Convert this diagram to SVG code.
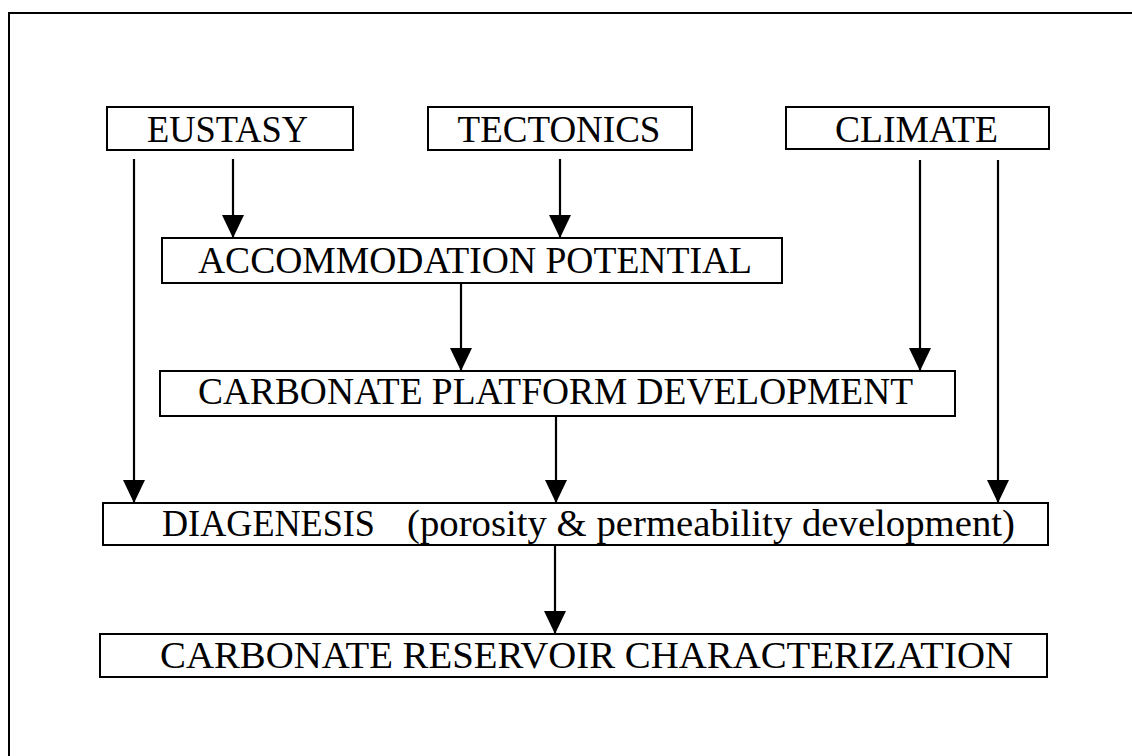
<svg xmlns="http://www.w3.org/2000/svg" width="1132" height="756" viewBox="0 0 1132 756">
  <defs>
    <marker id="arr" markerUnits="userSpaceOnUse" viewBox="0 0 23 22" refX="23" refY="11" markerWidth="23" markerHeight="22" orient="auto">
      <path d="M0,0 L23,11 L0,22 Z" fill="#000"/>
    </marker>
    <style>
      .box { fill: #fff; stroke: #000; stroke-width: 2; }
      .lbl { font-family: "Liberation Serif", "Times New Roman", serif; font-size: 37px; fill: #000; }
      .conn { stroke: #000; stroke-width: 2.2; fill: none; marker-end: url(#arr); }
      .frame { stroke: #000; stroke-width: 2; fill: none; }
    </style>
  </defs>
  <rect width="1132" height="756" fill="#fff"/>
  <path class="frame" d="M9,756 L9,13 L1132,13"/>

  <g id="eustasy">
    <rect class="box" x="107" y="107" width="246" height="43"/>
    <text class="lbl" x="147" y="142" textLength="161" lengthAdjust="spacingAndGlyphs">EUSTASY</text>
  </g>
  <g id="tectonics">
    <rect class="box" x="428" y="107" width="264" height="43"/>
    <text class="lbl" x="559" y="142" text-anchor="middle">TECTONICS</text>
  </g>
  <g id="climate">
    <rect class="box" x="786" y="107" width="263" height="42"/>
    <text class="lbl" x="835" y="142" textLength="163" lengthAdjust="spacingAndGlyphs">CLIMATE</text>
  </g>
  <g id="accommodation">
    <rect class="box" x="162" y="238" width="620" height="45"/>
    <text class="lbl" x="198" y="273" textLength="554" lengthAdjust="spacingAndGlyphs">ACCOMMODATION POTENTIAL</text>
  </g>
  <g id="platform">
    <rect class="box" x="160" y="371" width="795" height="45"/>
    <text class="lbl" x="198" y="404" textLength="715" lengthAdjust="spacingAndGlyphs">CARBONATE PLATFORM DEVELOPMENT</text>
  </g>
  <g id="diagenesis">
    <rect class="box" x="103" y="503" width="945" height="42"/>
    <text class="lbl" x="162" y="536" textLength="213" lengthAdjust="spacingAndGlyphs">DIAGENESIS</text>
    <text class="lbl" x="407" y="536" textLength="608" lengthAdjust="spacingAndGlyphs">(porosity &amp; permeability development)</text>
  </g>
  <g id="reservoir">
    <rect class="box" x="100" y="634" width="947" height="43"/>
    <text class="lbl" x="160" y="668" textLength="853" lengthAdjust="spacingAndGlyphs">CARBONATE RESERVOIR CHARACTERIZATION</text>
  </g>

  <g id="connectors">
    <line class="conn" x1="134" y1="159" x2="134" y2="503"/>
    <line class="conn" x1="233" y1="159" x2="233" y2="238"/>
    <line class="conn" x1="560" y1="159" x2="560" y2="238"/>
    <line class="conn" x1="461" y1="283" x2="461" y2="371"/>
    <line class="conn" x1="920" y1="160" x2="920" y2="371"/>
    <line class="conn" x1="998" y1="160" x2="998" y2="503"/>
    <line class="conn" x1="556" y1="416" x2="556" y2="503"/>
    <line class="conn" x1="555" y1="545" x2="555" y2="634"/>
  </g>
</svg>
